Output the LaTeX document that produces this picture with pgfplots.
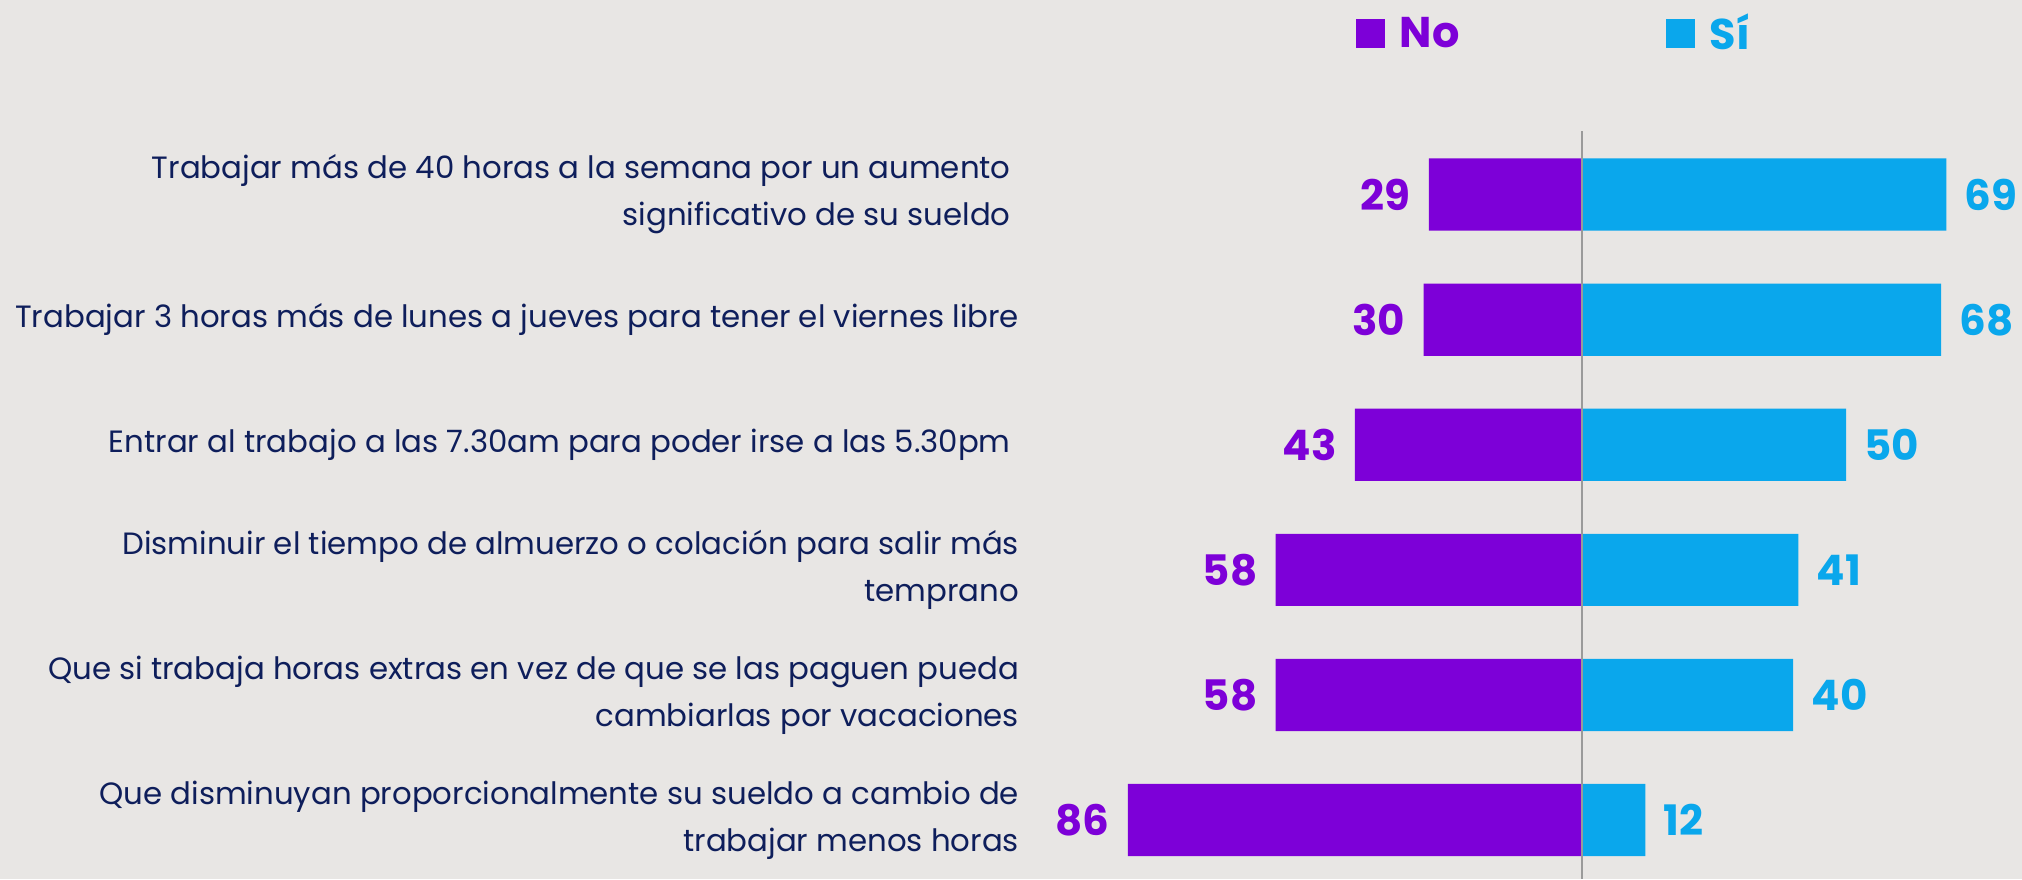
\documentclass[border=0pt]{standalone}
\usepackage{pgfplots}
\pgfplotsset{compat=1.18}
\usepackage{fontspec}
\setmainfont{Poppins}
\definecolor{bg}{HTML}{E8E6E4}
\definecolor{nopurple}{HTML}{7D00D8}
\definecolor{siblue}{HTML}{0AA7EC}
\definecolor{navy}{HTML}{0E1E5B}
\definecolor{axgray}{HTML}{9A9A9A}
\begin{document}
\begin{tikzpicture}
\path[use as bounding box, fill=bg] (0,0) rectangle (1011pt,439.5pt);
\begin{axis}[
  at={(508.5pt,0pt)}, anchor=south west,
  scale only axis, width=493.7pt, height=373.8pt,
  xmin=-107, xmax=80,
  ymin=-0.505, ymax=5.471, y dir=reverse,
  axis line style={draw=none},
  /pgf/number format/assume math mode=true,
  xtick=\empty,
  extra x ticks={0}, extra x tick labels={},
  extra x tick style={grid=major, major grid style={axgray, line width=0.8pt}},
  ytick={0,1,2,3,4,5},
  yticklabels={
    {Trabajar más de 40 horas a la semana por un aumento\hspace*{0.27em}\\significativo de su sueldo\hspace*{0.27em}},
    {Trabajar 3 horas más de lunes a jueves para tener el viernes libre},
    {Entrar al trabajo a las 7.30am para poder irse a las 5.30pm\hspace*{0.27em}},
    {Disminuir el tiempo de almuerzo o colación para salir más\\temprano},
    {Que si trabaja horas extras en vez de que se las paguen pueda\\cambiarlas por vacaciones},
    {Que disminuyan proporcionalmente su sueldo a cambio de\\trabajar menos horas}
  },
  yticklabel style={align=right, inner sep=0pt, xshift=1.2pt, text=navy, font=\fontsize{15.4}{23.5}\selectfont},
  major tick length=0pt,
  axis on top,
  xbar, bar width=36.1pt,
  legend columns=2,
  legend style={draw=none, fill=none, inner sep=0pt, outer sep=0pt,
    at={(0.3433,1.131)}, anchor=west,
    nodes={inner sep=0pt, font=\fontsize{21.5}{24}\selectfont\bfseries},
    /tikz/every odd column/.append style={column sep=7.5pt},
    /tikz/every even column/.append style={column sep=103pt}},
]
\addplot[xbar, bar shift=0pt, fill=nopurple, draw=none,
  legend image code/.code={\fill[nopurple] (0pt,-7.25pt) rectangle (14.5pt,7.25pt);},
  point meta={-x},
  nodes near coords={\pgfmathprintnumber[assume math mode=true]{\pgfplotspointmeta}},
  nodes near coords style={anchor=east, xshift=-9pt, inner sep=0pt, text=nopurple, font=\fontsize{21}{24}\selectfont\bfseries}]
  coordinates {(-29,0) (-30,1) (-43,2) (-58,3) (-58,4) (-86,5)};
\addlegendentry{\textcolor{nopurple}{No}}
\addplot[xbar, bar shift=0pt, fill=siblue, draw=none,
  legend image code/.code={\fill[siblue] (0pt,-7.25pt) rectangle (14.5pt,7.25pt);},
  point meta=x,
  nodes near coords={\pgfmathprintnumber[assume math mode=true]{\pgfplotspointmeta}},
  nodes near coords style={anchor=west, xshift=9pt, inner sep=0pt, text=siblue, font=\fontsize{21}{24}\selectfont\bfseries}]
  coordinates {(69,0) (68,1) (50,2) (41,3) (40,4) (12,5)};
\addlegendentry{\textcolor{siblue}{Sí}}
\end{axis}
\end{tikzpicture}
\end{document}
